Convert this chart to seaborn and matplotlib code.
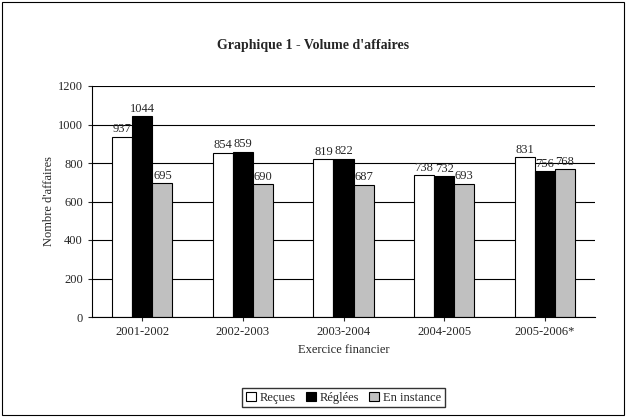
import pandas as pd
import matplotlib.pyplot as plt
import seaborn as sns
from matplotlib.patches import Rectangle

exercices = ["2001-2002", "2002-2003", "2003-2004", "2004-2005", "2005-2006*"]
recues = [937, 854, 819, 738, 831]
reglees = [1044, 859, 822, 732, 756]
en_instance = [695, 690, 687, 693, 768]
series = ["Reçues", "Réglées", "En instance"]

df = pd.DataFrame({
    "Exercice": exercices * 3,
    "Série": [series[0]] * 5 + [series[1]] * 5 + [series[2]] * 5,
    "Valeur": recues + reglees + en_instance,
})

sns.set_style("white")
plt.rcParams["font.family"] = ["Liberation Serif", "DejaVu Serif"]

fig = plt.figure(figsize=(6.26, 4.17), dpi=100)
ax = fig.add_axes([92 / 626, 1 - 317 / 417, 503 / 626, 231 / 417])
sns.barplot(data=df, x="Exercice", y="Valeur", hue="Série",
            palette=["white", "black", "#c0c0c0"], edgecolor="black",
            linewidth=0.8, width=0.6, ax=ax, legend=True)

for cont in ax.containers:
    ax.bar_label(cont, fontsize=9, padding=1)

ax.set_ylim(0, 1200)
ax.set_yticks(range(0, 1201, 200))
ax.yaxis.grid(True, color="black", linewidth=0.8)
ax.set_axisbelow(True)
for s in ["top", "right"]:
    ax.spines[s].set_visible(False)
for s in ["left", "bottom"]:
    ax.spines[s].set_color("black")
ax.tick_params(axis="both", labelsize=9, length=3, left=True, bottom=True)
ax.set_xlabel("Exercice financier", fontsize=9)
ax.set_ylabel("Nombre d'affaires", fontsize=9, labelpad=2)
fig.text(0.5, 1 - 45 / 417, "Graphique 1 - Volume d'affaires",
         ha="center", va="center", fontsize=10, fontweight="bold")

ax.legend(loc="upper center", bbox_to_anchor=(0.5, -0.28), ncol=3,
          fontsize=9, frameon=True, fancybox=False, edgecolor="black",
          handlelength=0.8, handletextpad=0.3, columnspacing=0.8,
          borderpad=0.3)

fig.patches.append(Rectangle((0.003, 0.004), 0.994, 0.992, transform=fig.transFigure,
                             fill=False, edgecolor="black", linewidth=0.8))
fig.savefig("out.png", dpi=100)
